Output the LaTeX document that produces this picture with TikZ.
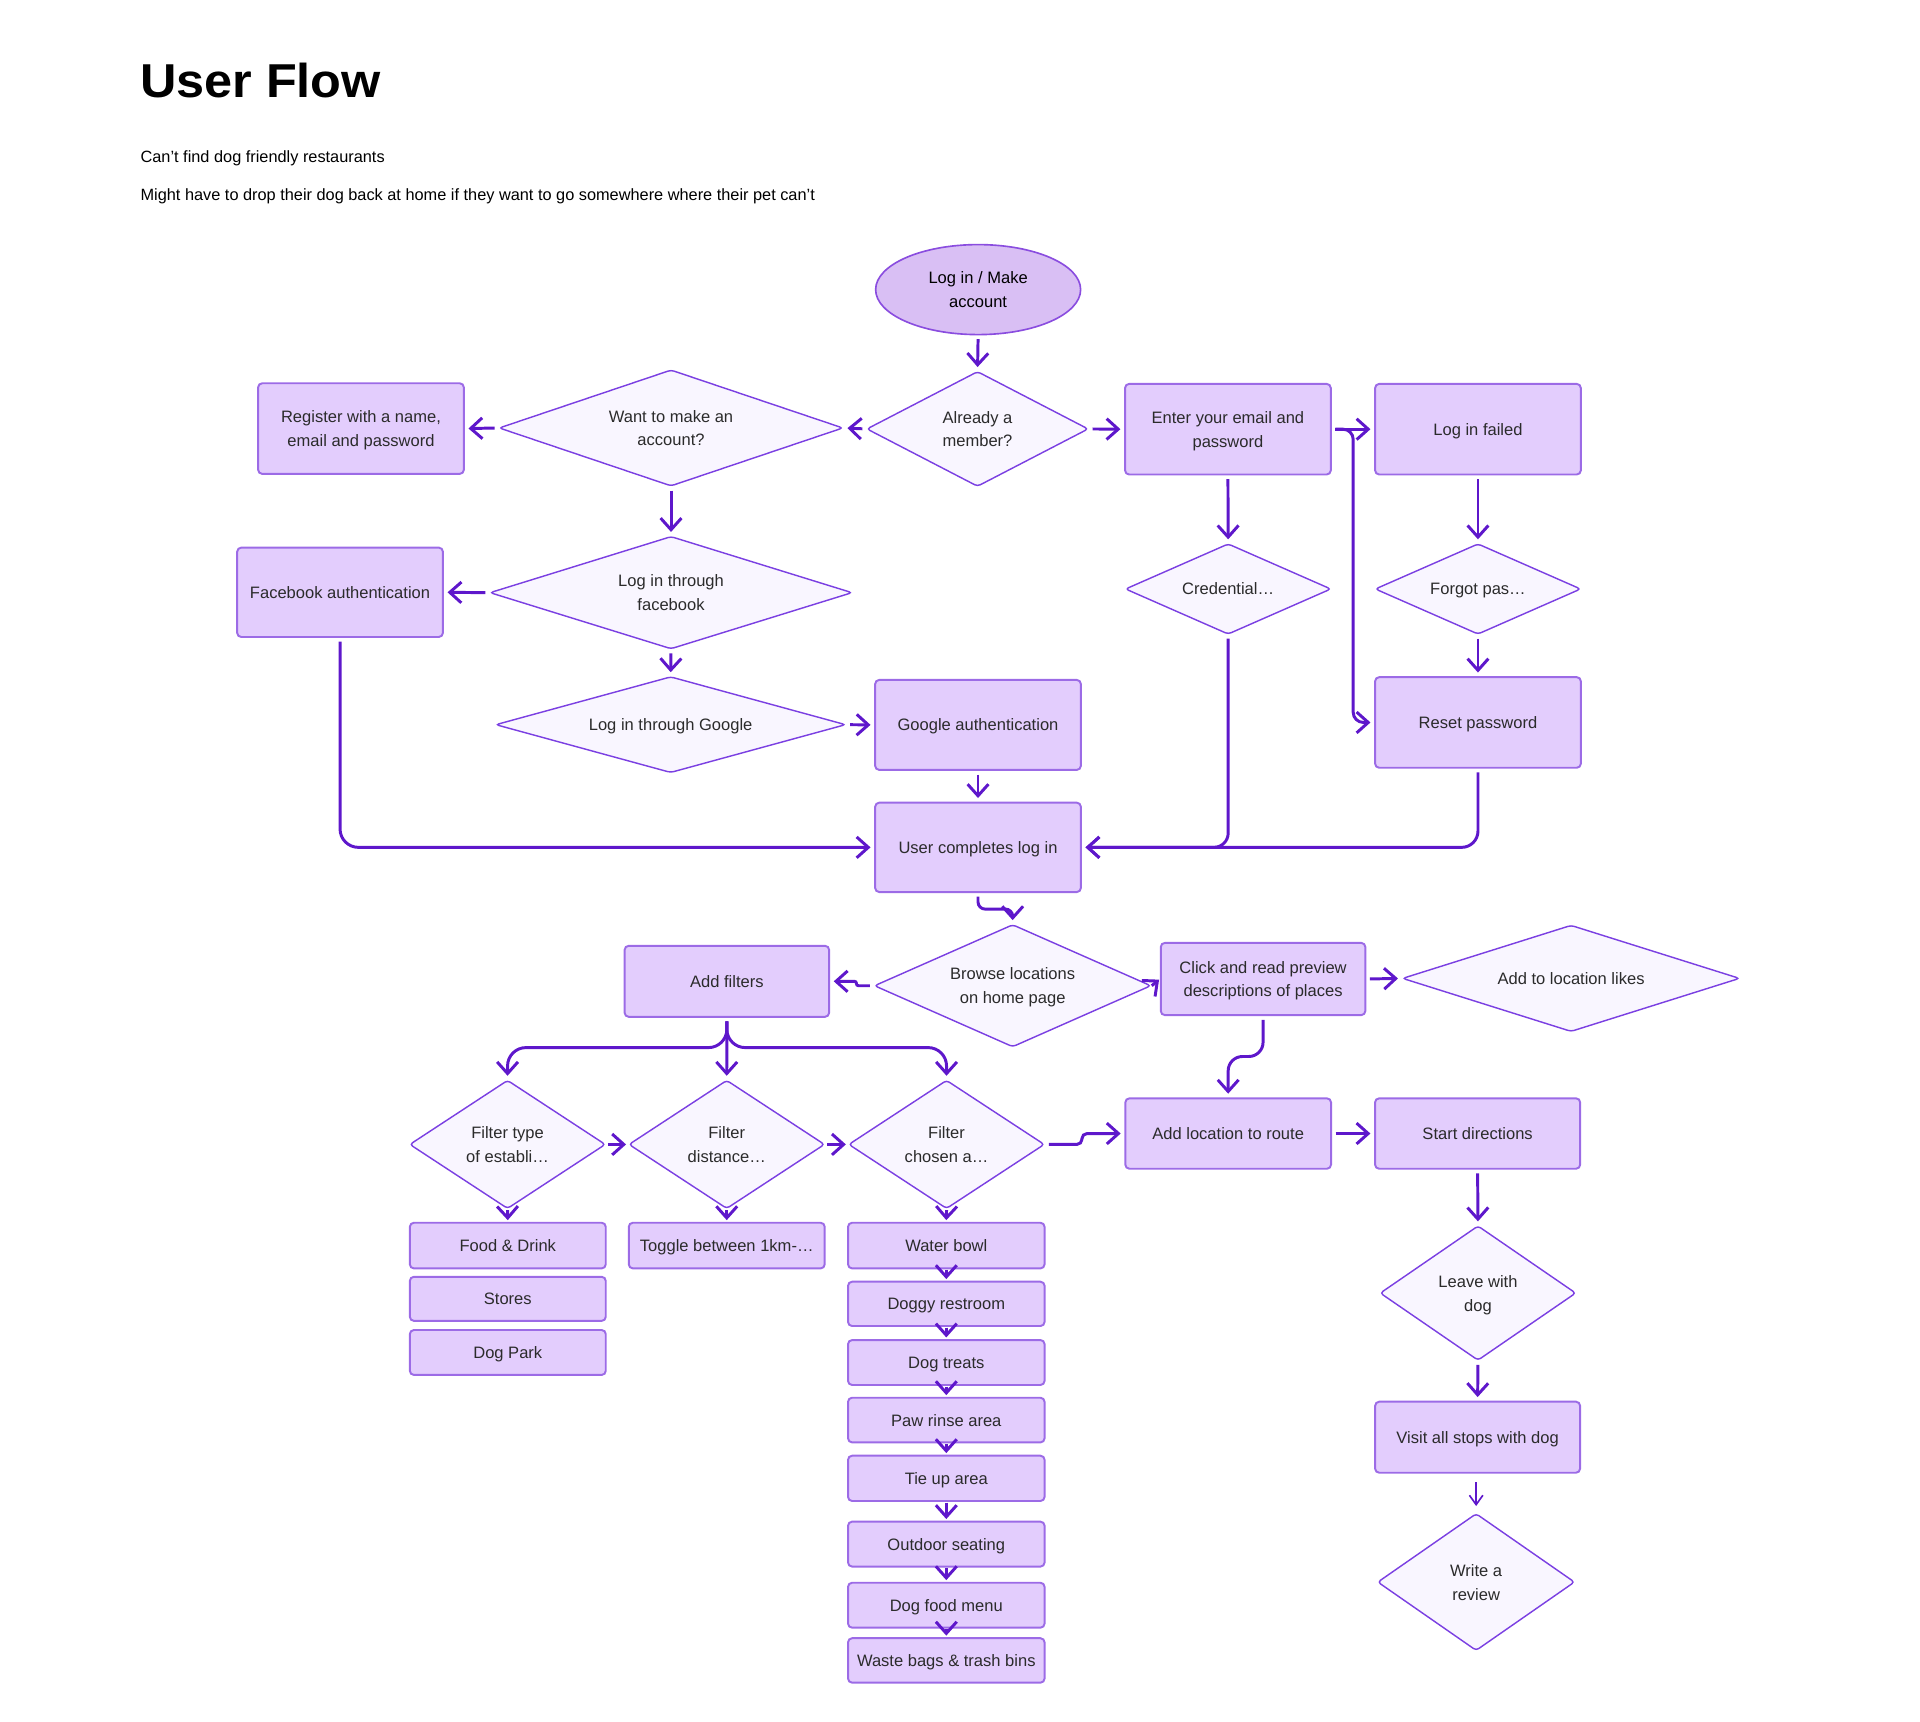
\documentclass[tikz,border=0pt]{standalone}
\usepackage{fontspec}
\setmainfont{Liberation Sans}
\newfontfamily\titlefont[FakeStretch=1.06]{Liberation Sans}
\usetikzlibrary{shapes.geometric,arrows.meta,calc}
\definecolor{boxfill}{HTML}{E3CDFD}
\definecolor{boxline}{HTML}{9C6BE6}
\definecolor{diafill}{HTML}{F9F6FF}
\definecolor{dialine}{HTML}{7B40E2}
\definecolor{ellfill}{HTML}{D9BFF4}
\definecolor{ellline}{HTML}{8A4DDF}
\definecolor{conncol}{HTML}{5E17CB}
\definecolor{txt}{HTML}{2B2B2B}
\begin{document}
\begin{tikzpicture}[x=0.6pt,y=-0.6pt,
  every node/.style={font=\fontsize{8.1pt}{11.7pt}\selectfont, text=txt, align=center, inner sep=0pt},
  bx/.style 2 args={draw=boxline, fill=boxfill, line width=0.95pt, rounded corners=2pt, text depth=0pt, minimum width=#1*0.6pt, minimum height=#2*0.6pt},
  dm/.style n args={3}{diamond, draw=dialine, fill=diafill, line width=0.7pt, rounded corners=1.5pt, text depth=0pt, minimum width=#1*0.6pt, minimum height=#2*0.6pt, shape aspect=#3},
  conn/.style={draw=conncol, line width=1.45pt, -{Straight Barb[length=5.7pt,width=10.2pt]}, shorten <=1.8pt, shorten >=1.8pt},
  tight/.style={shorten <=0.3pt, shorten >=0.8pt},
  thinconn/.style={draw=conncol, line width=0.8pt, -{Straight Barb[length=4.6pt,width=6.6pt]}, shorten <=4.2pt, shorten >=3.3pt}
]
\useasboundingbox (0,0) rectangle (1568,1406);

% title and notes
\node[anchor=base west, font=\fontsize{23.3pt}{28pt}\selectfont\titlefont\bfseries, text=black] (title) at (114,79.5) {User Flow};
\node[anchor=base west, font=\fontsize{8pt}{10pt}\selectfont, text=black] (sub1) at (114.5,133) {Can’t find dog friendly restaurants};
\node[anchor=base west, font=\fontsize{8pt}{10pt}\selectfont, text=black] (sub2) at (114.5,164) {Might have to drop their dog back at home if they want to go somewhere where their pet can’t};

% top part
\node[ellipse, draw=ellline, fill=ellfill, line width=0.8pt, text depth=0pt, minimum width=167.4*0.6pt, minimum height=73.5*0.6pt, text=black] (start) at (798.8,236.5) {Log in / Make\\account};
\node[dm={181}{94}{1.93}] (already) at (798.3,350.3) {Already a\\member?};
\node[dm={281}{95}{2.96}] (want) at (548,349.5) {Want to make an\\account?};
\node[bx={168}{74}] (register) at (294.8,350) {Register with a name,\\email and password};
\node[bx={168}{74}] (enter) at (1002.8,350.5) {Enter your email and\\password};
\node[bx={168}{74}] (failed) at (1207,350.5) {Log in failed};
\node[dm={168}{74}{2.27}] (cred) at (1003,481) {Credential…};
\node[dm={168}{74}{2.27}] (forgot) at (1207,481) {Forgot pas…};
\node[bx={168}{74}] (reset) at (1207,590) {Reset password};
\node[dm={296}{92}{3.22}] (fbdia) at (548,484) {Log in through\\facebook};
\node[bx={168}{73}] (fbauth) at (277.7,483.7) {Facebook authentication};
\node[dm={286}{78.5}{3.64}] (ggdia) at (547.7,591.8) {Log in through Google};
\node[bx={168}{73.5}] (ggauth) at (798.7,592) {Google authentication};
\node[bx={168}{73}] (user) at (798.7,692) {User completes log in};

% middle part
\node[dm={226}{100}{2.26}] (browse) at (827,805) {Browse locations\\on home page};
\node[bx={167}{58}] (addf) at (593.6,801.4) {Add filters};
\node[bx={167}{59}] (click) at (1031.5,799.5) {Click and read preview\\descriptions of places};
\node[dm={275.5}{87}{3.17}] (likes) at (1283,799) {Add to location likes};
\node[bx={168}{57.5}] (route) at (1003,925.7) {Add location to route};
\node[bx={167.5}{57.5}] (startdir) at (1206.7,925.7) {Start directions};

% filters
\node[dm={160}{105}{1.52}] (ftype) at (414.5,934.6) {Filter type\\of establi…};
\node[dm={160}{105}{1.52}] (fdist) at (593.5,934.6) {Filter\\distance…};
\node[dm={160}{105}{1.52}] (fchosen) at (773,934.6) {Filter\\chosen a…};
\node[bx={160}{37.3}] (food) at (414.7,1017.2) {Food \& Drink};
\node[bx={160}{36}] (stores) at (414.7,1060.7) {Stores};
\node[bx={160}{36.7}] (dogpark) at (414.7,1104.5) {Dog Park};
\node[bx={160}{37.3}] (toggle) at (593.5,1017.2) {Toggle between 1km-…};
\node[bx={160.5}{37.3}] (water) at (772.8,1017.2) {Water bowl};
\node[bx={160.5}{36.2}] (doggy) at (772.8,1064.8) {Doggy restroom};
\node[bx={160.5}{36.7}] (treats) at (772.8,1112.7) {Dog treats};
\node[bx={160.5}{36.5}] (paw) at (772.8,1159.7) {Paw rinse area};
\node[bx={160.5}{37}] (tie) at (772.8,1207.3) {Tie up area};
\node[bx={160.5}{36.7}] (outdoor) at (772.8,1261) {Outdoor seating};
\node[bx={160.5}{36.7}] (dogfood) at (772.8,1310.9) {Dog food menu};
\node[bx={160.5}{36.3}] (waste) at (772.8,1356) {Waste bags \& trash bins};

% right column
\node[dm={160}{110}{1.45}] (leave) at (1207,1056) {Leave with\\dog};
\node[bx={167.4}{58}] (visit) at (1206.7,1173.7) {Visit all stops with dog};
\node[dm={161}{112}{1.44}] (write) at (1205.5,1292) {Write a\\review};

% connectors: top
\draw[conn] (start.south) -- (already.north);
\draw[conn] (already.west) -- (want.east);
\draw[conn] (want.west) -- (register.east);
\draw[conn] (already.east) -- (enter.west);
\draw[conn] (enter.east) -- (failed.west);
\draw[conn, rounded corners=5pt] (enter.east) -- ++(17.5,0) |- (reset.west);
\draw[conn] (enter.south) -- (cred.north);
\draw[conn] (failed.south) -- (forgot.north);
\draw[conn] (forgot.south) -- (reset.north);
\draw[conn] (want.south) -- (fbdia.north);
\draw[conn] (fbdia.west) -- (fbauth.east);
\draw[conn] (fbdia.south) -- (ggdia.north);
\draw[conn] (ggdia.east) -- (ggauth.west);
\draw[conn] (ggauth.south) -- (user.north);
\draw[conn, rounded corners=9pt] (fbauth.south) |- (user.west);
\draw[conn, rounded corners=7pt] (cred.south) |- (user.east);
\draw[conn, rounded corners=8pt] (reset.south) |- (user.east);

% connectors: middle
\draw[conn, rounded corners=3.5pt] (user.south) |- ($(browse.north)+(0,-12)$) -- (browse.north);
\draw[conn, rounded corners=1pt] (browse.west) -- ++(-14,0) |- (addf.east);
\draw[conn, shorten <=0pt, shorten >=0.5pt] (browse.east) -- (click.west);
\draw[conn] (click.east) -- (likes.west);
\draw[conn, rounded corners=7pt] (click.south) -- ++(0,33) -| (route.north);
\draw[conn] (route.east) -- (startdir.west);

% filters
\draw[conn, rounded corners=9pt] (addf.south) |- ($(ftype.north)+(0,-26)$) -- (ftype.north);
\draw[conn, rounded corners=9pt] (addf.south) |- ($(fchosen.north)+(0,-26)$) -- (fchosen.north);
\draw[conn] (addf.south) -- (fdist.north);
\draw[conn, shorten <=1pt, shorten >=1pt] (ftype.east) -- (fdist.west);
\draw[conn, shorten <=1pt, shorten >=1pt] (fdist.east) -- (fchosen.west);
\draw[conn, rounded corners=2.5pt] (fchosen.east) -- ++(30,0) |- (route.west);
\draw[conn, tight] (ftype.south) -- (food.north);
\draw[conn, tight] (fdist.south) -- (toggle.north);
\draw[conn, tight] (fchosen.south) -- (water.north);
\draw[conn, tight] (water.south) -- (doggy.north);
\draw[conn, tight] (doggy.south) -- (treats.north);
\draw[conn, tight] (treats.south) -- (paw.north);
\draw[conn, tight] (paw.south) -- (tie.north);
\draw[conn, tight] (tie.south) -- (outdoor.north);
\draw[conn, tight] (outdoor.south) -- (dogfood.north);
\draw[conn, tight] (dogfood.south) -- (waste.north);

% right column
\draw[conn] (startdir.south) -- (leave.north);
\draw[conn] (leave.south) -- (visit.north);
\draw[thinconn] (visit.south -| write.north) -- (write.north);
\end{tikzpicture}
\end{document}
